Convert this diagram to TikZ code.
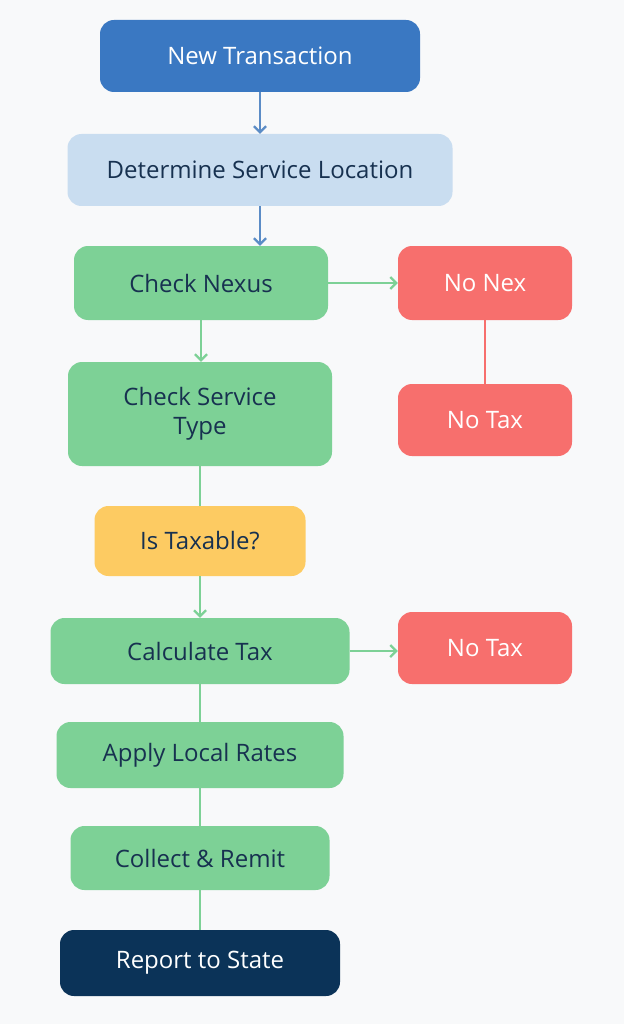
\documentclass[tikz,border=0pt]{standalone}
\usepackage{fontspec}
\setmainfont{Open Sans}
\usetikzlibrary{arrows.meta}
\definecolor{bgc}{HTML}{F8F9FA}
\definecolor{blueA}{HTML}{3A78C2}
\definecolor{blueL}{HTML}{C9DDF0}
\definecolor{txtD}{HTML}{173150}
\definecolor{grn}{HTML}{7DD196}
\definecolor{redA}{HTML}{F76F6D}
\definecolor{yel}{HTML}{FDCB62}
\definecolor{navy}{HTML}{0B3358}
\definecolor{arrB}{HTML}{5B8CC6}
\tikzset{
 x=1pt,y=-1pt,
 box/.style={rounded corners=14pt,align=center,inner sep=0pt,font=\fontsize{24}{29}\selectfont,text=txtD},
 gbox/.style={box,fill=grn},
 rbox/.style={box,fill=redA,text=white},
 garr/.style={draw=grn,line width=2.2pt,-{Straight Barb[length=6pt,width=12pt]}},
 gline/.style={draw=grn,line width=2.2pt},
 barr/.style={draw=arrB,line width=2.2pt,-{Straight Barb[length=6pt,width=12pt]}},
}
\begin{document}
\begin{tikzpicture}
\fill[bgc] (0,0) rectangle (624,1024);
\useasboundingbox (0,0) rectangle (624,1024);
\node[box,fill=blueA,text=white,minimum width=320pt,minimum height=72pt] (a) at (260,56) {New Transaction};
\node[box,fill=blueL,minimum width=385pt,minimum height=72pt] (b) at (260,170) {Determine Service Location};
\node[gbox,minimum width=254pt,minimum height=74pt] (c) at (201,283) {Check Nexus};
\node[rbox,minimum width=174pt,minimum height=74pt] (n1) at (485,283) {No Nex};
\node[gbox,minimum width=264pt,minimum height=104pt] (d) at (200,414) {Check Service\\Type};
\node[rbox,minimum width=174pt,minimum height=72pt] (n2) at (485,420) {No Tax};
\node[box,fill=yel,minimum width=211pt,minimum height=70pt] (e) at (200,541) {Is Taxable?};
\node[gbox,minimum width=299pt,minimum height=66pt] (f) at (200,651) {Calculate Tax};
\node[rbox,minimum width=174pt,minimum height=72pt] (n3) at (485,648) {No Tax};
\node[gbox,minimum width=287pt,minimum height=66pt] (g) at (200,755) {Apply Local Rates};
\node[gbox,minimum width=259pt,minimum height=64pt] (h) at (200,858) {Collect \& Remit};
\node[box,fill=navy,text=white,minimum width=280pt,minimum height=66pt] (i) at (200,963) {Report to State};
\draw[barr] (a.south) -- (b.north);
\draw[barr] (b.south) -- (b.south|-c.north);
\draw[garr] (c.east) -- (n1.west);
\draw[garr] (c.south) -- (c.south|-d.north);
\draw[gline] (d.south) -- (e.north);
\draw[draw=redA,line width=2.2pt] (n1.south) -- (n2.north);
\draw[garr] (e.south) -- (f.north);
\draw[garr] (f.east) -- (n3.west|-f.east);
\draw[gline] (f.south) -- (g.north);
\draw[gline] (g.south) -- (h.north);
\draw[gline] (h.south) -- (i.north);
\end{tikzpicture}
\end{document}
